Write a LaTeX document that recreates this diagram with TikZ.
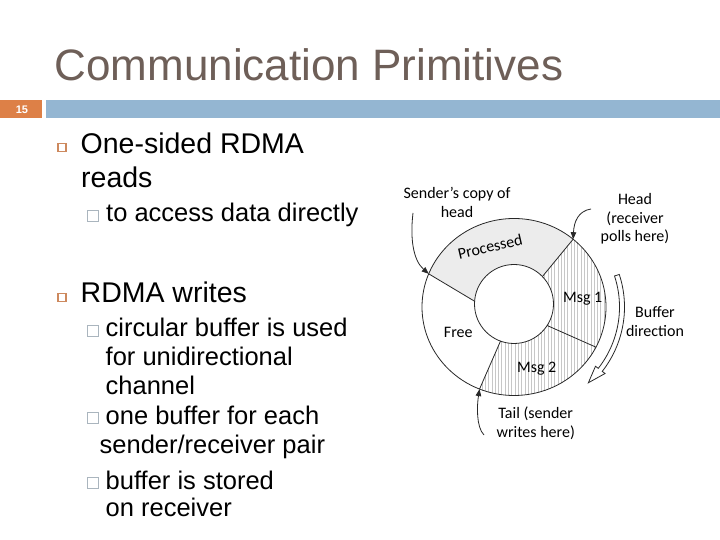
\documentclass[tikz,border=0pt]{standalone}
\usepackage{fontspec}
\setmainfont{Liberation Sans}
\newfontfamily\diagfont{Carlito}
\usetikzlibrary{arrows.meta,patterns.meta}
\definecolor{titlebrown}{RGB}{110,95,88}
\definecolor{slideorange}{RGB}{221,128,71}
\definecolor{slideblue}{RGB}{148,182,210}
\definecolor{bulletorange}{RGB}{205,137,94}
\definecolor{bulletgray}{RGB}{170,181,190}
\definecolor{procgray}{RGB}{236,236,236}
\definecolor{ringline}{RGB}{40,40,40}
\tikzset{
  slidetitle/.style={anchor=base west,inner sep=0pt,text=titlebrown,font=\fontsize{44}{50}\selectfont},
  firstlvl/.style={anchor=base west,inner sep=0pt,font=\fontsize{28.5}{34}\selectfont},
  secondlvl/.style={anchor=base west,inner sep=0pt,font=\fontsize{25.5}{30}\selectfont},
  firstbox/.style={rectangle,draw=bulletorange,line width=1.6pt,minimum size=8pt,inner sep=0pt},
  secondbox/.style={rectangle,draw=bulletgray,line width=0.9pt,minimum size=11pt,inner sep=0pt},
  ringlbl/.style={align=center,inner sep=0pt,font=\diagfont\fontsize{16}{18.5}\selectfont},
  ringedge/.style={draw=ringline,line width=0.8pt},
  pointer/.style={-{Triangle[length=7pt,width=5.5pt]},line width=0.8pt,draw=ringline},
  msgfill/.style={pattern={Lines[angle=90,distance=3.3pt,line width=0.4pt]},pattern color=black!22}
}

\begin{document}
\begin{tikzpicture}[x=1pt,y=1pt]
  \useasboundingbox (0,0) rectangle (720,540);
  \fill[white] (0,0) rectangle (720,540);
  \node[slidetitle] (title) at (54.5,459.3) {Communication Primitives};
  \fill[slideorange] (0,421.5) rectangle (41.5,440);
  \fill[slideblue] (45.5,421.5) rectangle (720,440);
  \node[text=white,font=\bfseries\fontsize{11}{13}\selectfont] (pagenum) at (22,430.7) {15};

  \node[firstbox] (b1) at (62,392.5) {};
  \node[firstlvl] (l1) at (80.5,386.7) {One-sided RDMA};
  \node[firstlvl] (l2) at (81,352) {reads};
  \node[secondbox] (b2) at (93.3,324.5) {};
  \node[secondlvl] (l3) at (106,318.3) {to access data directly};
  \node[firstbox] (b3) at (62,242.5) {};
  \node[firstlvl] (l4) at (80.5,237) {RDMA writes};
  \node[secondbox] (b4) at (93.3,209.5) {};
  \node[secondlvl] (l5) at (105.5,203.3) {circular buffer is used};
  \node[secondlvl] (l6) at (105.5,174) {for unidirectional};
  \node[secondlvl] (l7) at (105.5,145.7) {channel};
  \node[secondbox] (b5) at (93.3,122) {};
  \node[secondlvl] (l8) at (105.5,115.7) {one buffer for each};
  \node[secondlvl] (l9) at (99.5,86.7) {sender/receiver pair};
  \node[secondbox] (b6) at (93.3,57) {};
  \node[secondlvl] (l10) at (105.5,50.7) {buffer is stored};
  \node[secondlvl] (l11) at (105.5,23.3) {on receiver};

  \coordinate (ctr) at (514,233);
  \coordinate (ctri) at (514,236);
  \coordinate (headpt) at ([shift={(ctr)}]50:92 and 88.5);
  \coordinate (headin) at ([shift={(ctri)}]44:39.5);
  \coordinate (splitpt) at ([shift={(ctr)}]-27:92 and 88.5);
  \coordinate (splitin) at ([shift={(ctri)}]-33:39.5);
  \coordinate (tailpt) at ([shift={(ctr)}]-112:92 and 88.5);
  \coordinate (tailin) at ([shift={(ctri)}]-110:39.5);
  \coordinate (sendpt) at ([shift={(ctr)}]158:92 and 88.5);
  \coordinate (sendin) at ([shift={(ctri)}]176:39.5);

  \fill[procgray] (headpt) arc[start angle=50,end angle=158,x radius=92,y radius=88.5] -- (sendin) arc[start angle=176,end angle=44,radius=39.5] -- cycle;
  \fill[msgfill] (headpt) arc[start angle=50,end angle=-27,x radius=92,y radius=88.5] -- (splitin) arc[start angle=-33,end angle=44,radius=39.5] -- cycle;
  \fill[msgfill] (splitpt) arc[start angle=-27,end angle=-112,x radius=92,y radius=88.5] -- (tailin) arc[start angle=-110,end angle=-33,radius=39.5] -- cycle;
  \draw[ringedge] (ctr) ellipse[x radius=92,y radius=88.5];
  \draw[ringedge,fill=white] (ctri) circle[radius=39.5];
  \draw[ringedge] (headpt) -- (headin);
  \draw[ringedge] (splitpt) -- (splitin);
  \draw[ringedge] (tailpt) -- (tailin);
  \draw[ringedge] (sendpt) -- (sendin);

  \node[ringlbl,rotate=13] (proc) at (490,293.3) {Processed};
  \node[ringlbl] (msg1) at (582.7,241.7) {Msg 1};
  \node[ringlbl] (free) at (458.3,207.3) {Free};
  \node[ringlbl] (msg2) at (536.7,171.7) {Msg 2};
  \node[ringlbl] (sendlbl) at (457,337.5) {Sender’s copy of\\head};
  \node[ringlbl] (headlbl) at (635,321) {Head\\(receiver\\polls here)};
  \node[ringlbl] (dirlbl) at (655,218.5) {Buffer\\direction};
  \node[ringlbl] (taillbl) at (535.7,116.7) {Tail (sender\\writes here)};

  \coordinate (sendfoot) at (413,327);
  \coordinate (headfoot) at (591,331);
  \coordinate (tailfoot) at (484,105);
  \draw[pointer] (sendfoot) .. controls (410,302) and (413,280) .. (sendpt);
  \draw[pointer] (headfoot) .. controls (578,329) and (574,318) .. (headpt);
  \draw[pointer] (tailfoot) .. controls (476,113) and (477,135) .. (tailpt);

  \draw[ringedge,fill=white] ([shift={(ctr)}]17.7:110.5 and 107) arc[start angle=17.7,end angle=-37,x radius=110.5,y radius=107] -- ([shift={(ctr)}]-37:114 and 110.5) -- ([shift={(ctr)}]-46.5:108 and 104.5) -- ([shift={(ctr)}]-37:102 and 98.5) -- ([shift={(ctr)}]-37:105.5 and 102) arc[start angle=-37,end angle=17.7,x radius=105.5,y radius=102] -- cycle;
\end{tikzpicture}
\end{document}
